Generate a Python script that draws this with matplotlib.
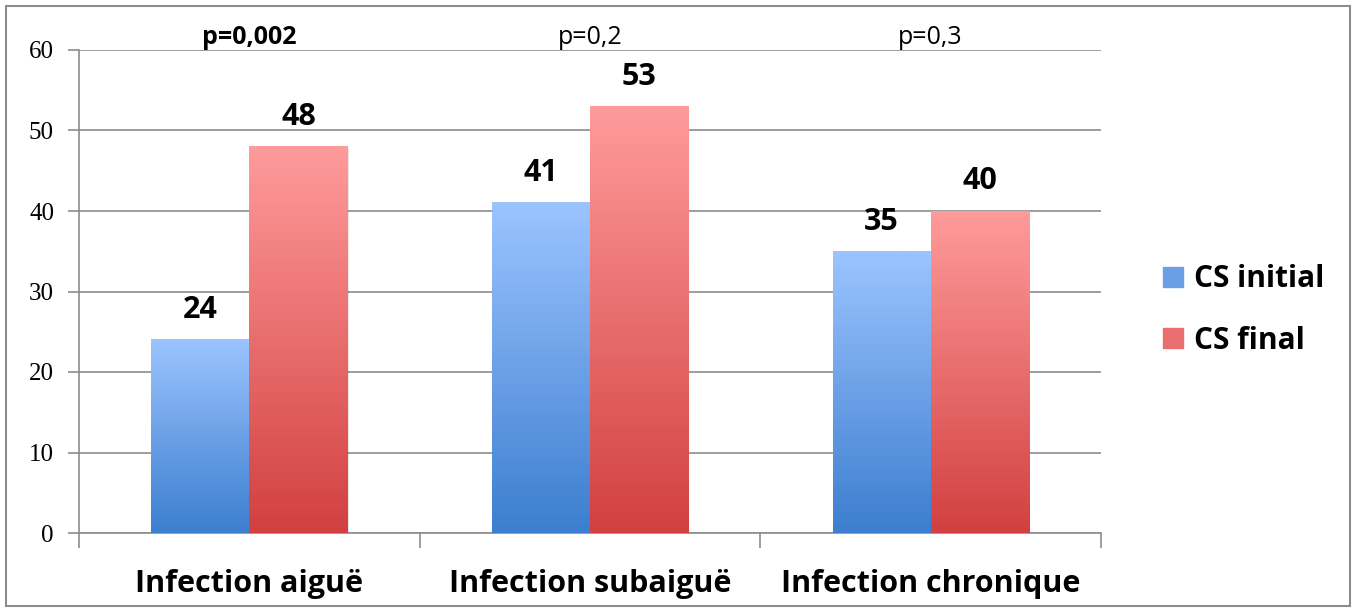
import numpy as np
import matplotlib
matplotlib.use("Agg")
import matplotlib.pyplot as plt
from matplotlib.colors import LinearSegmentedColormap
from matplotlib.patches import Rectangle

categories = ["Infection aiguë", "Infection subaiguë", "Infection chronique"]
cs_initial = [24, 41, 35]
cs_final = [48, 53, 40]
p_values = ["p=0,002", "p=0,2", "p=0,3"]
p_bold = [True, False, False]
series_names = ["CS initial", "CS final"]

# dégradés (bas -> haut)
blue_cmap = LinearSegmentedColormap.from_list("b", ["#3C7ECF", "#9CC4FF"])
red_cmap = LinearSegmentedColormap.from_list("r", ["#D24040", "#FF9B9B"])

FONT = "Open Sans"

fig = plt.figure(figsize=(13.55, 6.10), dpi=100)
ax = fig.add_axes([79 / 1355, 77 / 610, 1022 / 1355, 483 / 610])

x = np.arange(len(categories))
w = 0.288

bars_i = ax.bar(x - w / 2, cs_initial, w, color="none", zorder=3)
bars_f = ax.bar(x + w / 2, cs_final, w, color="none", zorder=3)

grad = np.linspace(0, 1, 256).reshape(-1, 1)
for bars, cmap in [(bars_i, blue_cmap), (bars_f, red_cmap)]:
    for b in bars:
        x0, y0 = b.get_x(), b.get_y()
        bw, bh = b.get_width(), b.get_height()
        # petite ombre
        ax.add_patch(Rectangle((x0 + 0.004, y0 - 0.25), bw, bh, color="#000000",
                               alpha=0.10, lw=0, zorder=2))
        ax.imshow(grad, cmap=cmap, origin="lower", aspect="auto",
                  extent=(x0, x0 + bw, y0, y0 + bh), zorder=3)

for bars, vals in [(bars_i, cs_initial), (bars_f, cs_final)]:
    for b, v in zip(bars, vals):
        ax.text(b.get_x() + b.get_width() / 2, v + 2.7, str(v), ha="center",
                va="baseline", fontsize=22, fontweight="bold", family=FONT)

for i, (p, bold) in enumerate(zip(p_values, p_bold)):
    ax.text(x[i], 60.7, p, ha="center", va="baseline", fontsize=18,
            fontweight="bold" if bold else "normal", family=FONT)

ax.set_xlim(-0.5, 2.5)
ax.set_ylim(0, 60)
ax.set_yticks(range(0, 61, 10))
ax.set_yticklabels([str(t) for t in range(0, 61, 10)], family="Liberation Serif",
                   fontsize=18)
ax.yaxis.grid(True, color="#8C8C8C", lw=1.2, zorder=0)
ax.set_axisbelow(True)

ax.set_xticks([-0.5, 0.5, 1.5, 2.5])
ax.set_xticklabels([])
ax.tick_params(axis="x", length=11, color="#8C8C8C", width=1.2)
ax.tick_params(axis="y", length=8, color="#8C8C8C", width=1.2, pad=10)
for i, c in enumerate(categories):
    ax.text(x[i], -7.33, c, ha="center", va="baseline", fontsize=22,
            fontweight="bold", family=FONT)

for s in ["top", "right"]:
    ax.spines[s].set_visible(False)
for s in ["left", "bottom"]:
    ax.spines[s].set_color("#8C8C8C")
    ax.spines[s].set_linewidth(1.2)

# légende
handles = [Rectangle((0, 0), 1, 1, color="#6A9FE6"), Rectangle((0, 0), 1, 1, color="#EA6E6E")]
leg = fig.legend(handles, series_names, loc="center left",
                 bbox_to_anchor=(1136 / 1355, 300 / 610), frameon=False,
                 prop={"family": FONT, "weight": "bold", "size": 21.5},
                 handlelength=0.68, handleheight=0.68, handletextpad=0.35,
                 labelspacing=1.05)

# cadre extérieur
fig.patches.append(Rectangle((6 / 1355, 4 / 610), 1344 / 1355, 600 / 610,
                             transform=fig.transFigure, fill=False,
                             edgecolor="#8C8C8C", lw=1.5))

fig.savefig("out.png", dpi=100)
